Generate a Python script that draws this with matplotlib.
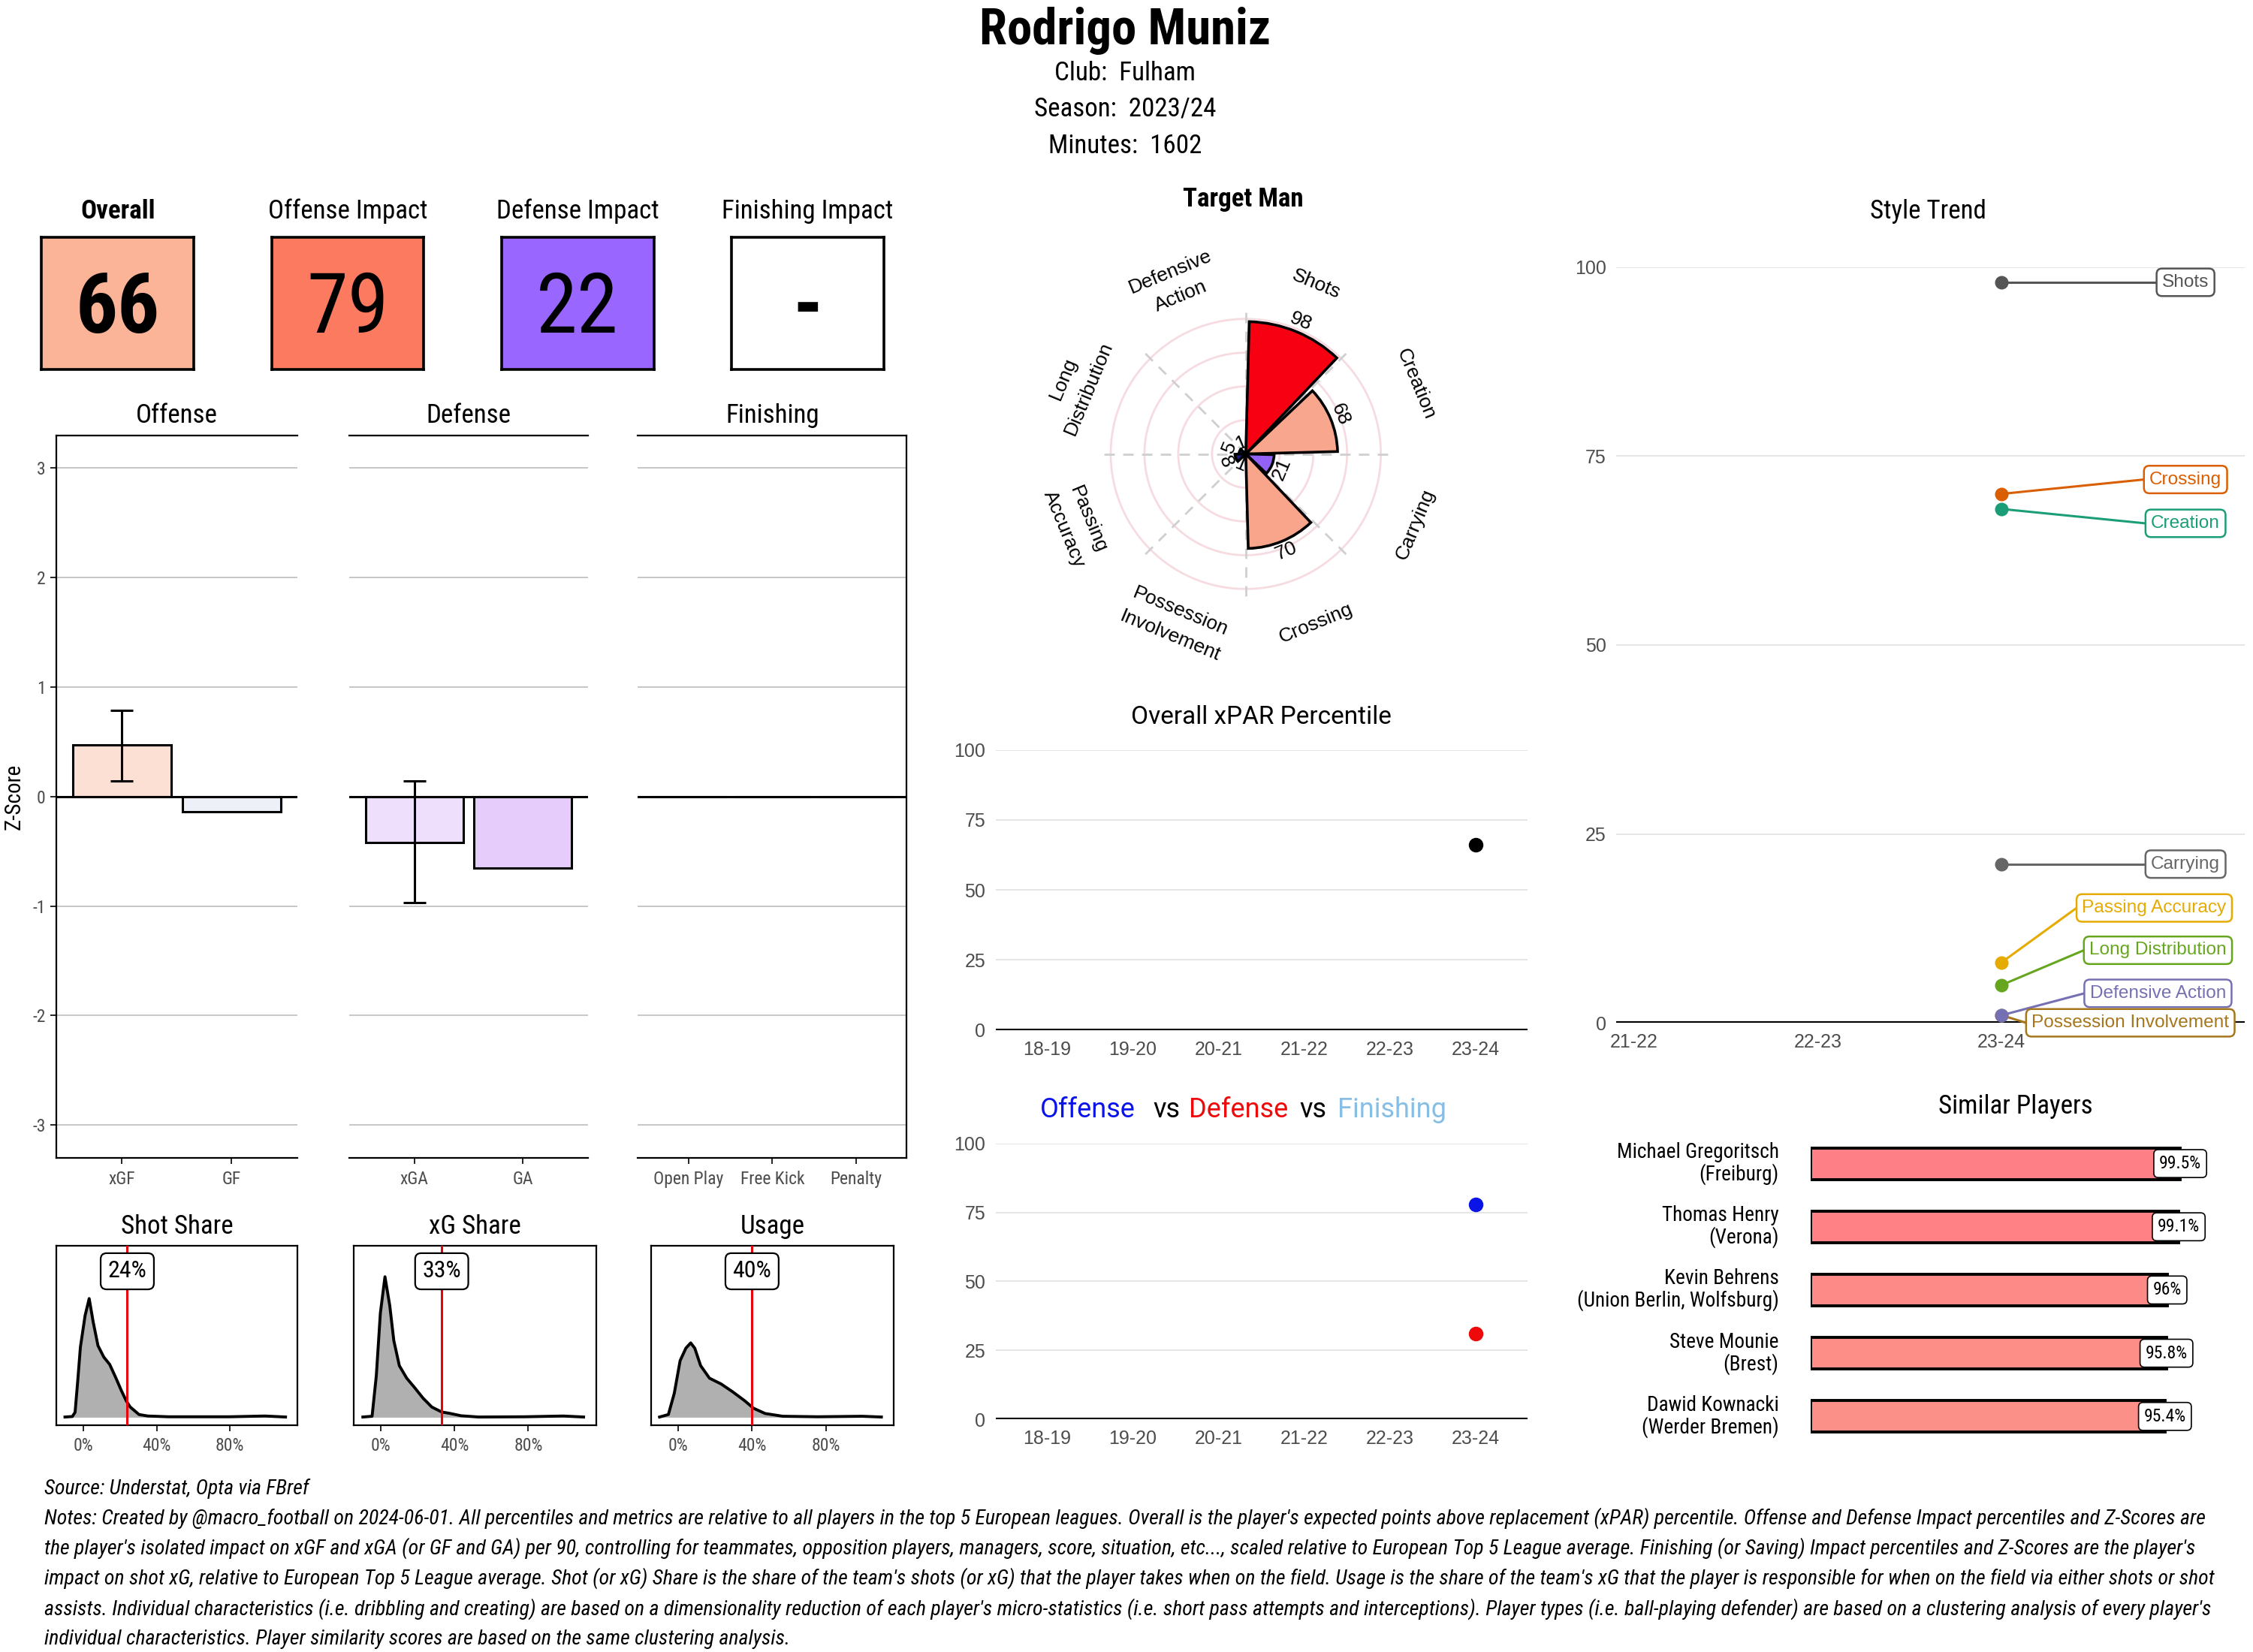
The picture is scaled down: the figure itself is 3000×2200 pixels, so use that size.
import matplotlib
matplotlib.use("Agg")
import matplotlib.pyplot as plt
import numpy as np
from matplotlib import font_manager as fm

plt.rcParams["axes.unicode_minus"] = False

# layout grid: reference picture scaled down to 1568 x 1150
W, H = 1568, 1150

avail = {f.name for f in fm.fontManager.ttflist}
COND = next((f for f in ["Roboto Condensed", "Liberation Sans Narrow", "Roboto"] if f in avail), "DejaVu Sans")
SANS = "Liberation Sans"
ROB = "Roboto"

# ---------------- data ----------------
player = "Rodrigo Muniz"
club = "Fulham"
season = "2023/24"
minutes = 1602

tile_labels = ["Overall", "Offense Impact", "Defense Impact", "Finishing Impact"]
tile_values = ["66", "79", "22", "-"]
tile_colors = ["#FCB499", "#FC7A60", "#9966FF", "#FFFFFF"]

off_cats = ["xGF", "GF"]
off_z = [0.47, -0.14]
off_lo = [0.14, np.nan]
off_hi = [0.79, np.nan]
off_fill = ["#FDE0D4", "#EEF0F8"]

def_cats = ["xGA", "GA"]
def_z = [-0.42, -0.65]
def_lo = [-0.97, np.nan]
def_hi = [0.14, np.nan]
def_fill = ["#EEE0FC", "#E6CCFA"]

fin_cats = ["Open Play", "Free Kick", "Penalty"]
fin_z = [0.0, 0.0, 0.0]
fin_lo = [np.nan, np.nan, np.nan]
fin_hi = [np.nan, np.nan, np.nan]
fin_fill = ["#FFFFFF", "#FFFFFF", "#FFFFFF"]

share_titles = ["Shot Share", "xG Share", "Usage"]
share_values = [0.24, 0.33, 0.40]
shot_x = [-0.10, -0.06, -0.045, -0.03, -0.016, 0.0096, 0.032, 0.054, 0.08, 0.112, 0.144, 0.176,
          0.208, 0.234, 0.256, 0.304, 0.352, 0.464, 0.656, 0.80, 0.992, 1.104]
shot_h = [1, 3, 20, 150, 280, 406, 474, 380, 286, 240, 211, 160, 106, 66, 41, 11, 5, 2, 2, 2, 5, 1]
xg_x = [-0.098, -0.048, -0.025, -0.003, 0.022, 0.048, 0.07, 0.10, 0.14, 0.18, 0.229, 0.276,
        0.33, 0.371, 0.435, 0.53, 0.784, 0.99, 1.10]
xg_h = [1, 4, 166, 416, 561, 446, 306, 206, 156, 121, 76, 41, 21, 16, 6, 1, 2, 5, 1]
use_x = [-0.102, -0.054, -0.022, 0.0096, 0.041, 0.067, 0.089, 0.121, 0.169, 0.232, 0.296, 0.36,
         0.408, 0.471, 0.567, 0.758, 0.997, 1.102]
use_h = [1, 11, 96, 226, 276, 297, 276, 206, 156, 133, 101, 66, 36, 15, 4, 2, 4, 1]

style_cats = ["Shots", "Creation", "Carrying", "Crossing", "Possession\nInvolvement",
              "Passing\nAccuracy", "Long\nDistribution", "Defensive\nAction"]
style_pct = [98, 68, 21, 70, 1, 8, 5, 1]
style_fill = ["#F60012", "#F8A78E", "#9262F6", "#F8A58B", "#10106A", "#1E1E84", "#1A1A7A", "#10106A"]

pct_seasons = ["18-19", "19-20", "20-21", "21-22", "22-23", "23-24"]
overall_pct = [np.nan, np.nan, np.nan, np.nan, np.nan, 66]
offense_pct = [np.nan, np.nan, np.nan, np.nan, np.nan, 78]
defense_pct = [np.nan, np.nan, np.nan, np.nan, np.nan, 31]
finishing_pct = [np.nan, np.nan, np.nan, np.nan, np.nan, np.nan]

trend_seasons = ["21-22", "22-23", "23-24"]
trend_names = ["Shots", "Crossing", "Creation", "Carrying", "Passing Accuracy",
               "Long Distribution", "Defensive Action", "Possession Involvement"]
trend_vals = [98, 70, 68, 21, 8, 5, 1, 1]
trend_colors = ["#555555", "#D95F02", "#1B9E77", "#666666", "#E6AB02", "#66A61E", "#7570B3", "#A6761D"]

sim_names = ["Michael Gregoritsch\n(Freiburg)", "Thomas Henry\n(Verona)",
             "Kevin Behrens\n(Union Berlin, Wolfsburg)", "Steve Mounie\n(Brest)",
             "Dawid Kownacki\n(Werder Bremen)"]
sim_scores = [99.5, 99.1, 96.0, 95.8, 95.4]
sim_colors = ["#FF7F86", "#FF8186", "#FD8A86", "#FC8D87", "#FB9088"]

source_txt = "Source: Understat, Opta via FBref"
notes_lines = [
    "Notes: Created by @macro_football on 2024-06-01. All percentiles and metrics are relative to all players in the top 5 European leagues. Overall is the player's expected points above replacement (xPAR) percentile. Offense and Defense Impact percentiles and Z-Scores are",
    "the player's isolated impact on xGF and xGA (or GF and GA) per 90, controlling for teammates, opposition players, managers, score, situation, etc..., scaled relative to European Top 5 League average. Finishing (or Saving) Impact percentiles and Z-Scores are the player's",
    "impact on shot xG, relative to European Top 5 League average. Shot (or xG) Share is the share of the team's shots (or xG) that the player takes when on the field. Usage is the share of the team's xG that the player is responsible for when on the field via either shots or shot",
    "assists. Individual characteristics (i.e. dribbling and creating) are based on a dimensionality reduction of each player's micro-statistics (i.e. short pass attempts and interceptions). Player types (i.e. ball-playing defender) are based on a clustering analysis of every player's",
    "individual characteristics. Player similarity scores are based on the same clustering analysis.",
]

# ---------------- helpers ----------------
fig = plt.figure(figsize=(15, 11), dpi=200)
fig.patch.set_facecolor("white")


def add_ax(x0, y0, x1, y1, **kw):
    return fig.add_axes([x0 / W, 1 - y1 / H, (x1 - x0) / W, (y1 - y0) / H], **kw)


def ftext(x, y, s, **kw):
    return fig.text(x / W, 1 - y / H, s, **kw)


def fit(t, width):
    r = fig.canvas.get_renderer()
    w = t.get_window_extent(r).width
    target = width / W * fig.bbox.width
    if w > target:
        t.set_fontsize(t.get_fontsize() * target / w)


# ---------------- header ----------------
t = ftext(783, 31, player, family=COND, weight="bold", fontsize=25, ha="center", va="baseline")
fit(t, 203)
for txt, yb, wd in [(f"Club:  {club}", 55.8, 110), (f"Season:  {season}", 81, 142),
                    (f"Minutes:  {minutes}", 106.6, 120)]:
    t = ftext(783, yb, txt, family=COND, fontsize=12.6, ha="center", va="baseline")
    fit(t, wd)

# ---------------- tiles ----------------
tile_x = [(29, 135), (189, 295), (349, 455), (509, 615)]
label_w = [55, 118, 120, 128]
for (x0, x1), lab, val, col, lw_ in zip(tile_x, tile_labels, tile_values, tile_colors, label_w):
    cx = (x0 + x1) / 2
    t = ftext(cx, 152, lab, family=COND, fontsize=12.6, ha="center", va="baseline",
              weight="bold" if lab == "Overall" else "normal")
    fit(t, lw_)
    ax = add_ax(x0, 165, x1, 257)
    ax.set_facecolor(col)
    ax.set_xticks([])
    ax.set_yticks([])
    for s in ax.spines.values():
        s.set_linewidth(1.3)
    ftext(cx, 231.5, val, family=COND, fontsize=40, ha="center", va="baseline",
          weight="bold" if lab in ("Overall", "Finishing Impact") else "normal")

# ---------------- z-score panels ----------------
def zpanel(x0, x1, cats, vals, lo, hi, fills, title, left=False, right=False):
    ax = add_ax(x0, 303, x1, 806)
    pos = np.arange(1, len(cats) + 1)
    ax.set_xlim(0.4, len(cats) + 0.6)
    ax.set_ylim(-3.3, 3.3)
    for y in range(-3, 4):
        ax.axhline(y, color="#BDBDBD", lw=0.6, zorder=0)
    ax.bar(pos, vals, width=0.9, color=fills, edgecolor="black", lw=1.1, zorder=2)
    ax.axhline(0, color="black", lw=1.1, zorder=3)
    lo = np.array(lo, float)
    hi = np.array(hi, float)
    ok = ~np.isnan(lo)
    if ok.any():
        v = np.array(vals, float)[ok]
        ax.errorbar(pos[ok], v, yerr=[v - lo[ok], hi[ok] - v], fmt="none", ecolor="black",
                    elinewidth=1.1, capsize=5.5, capthick=1.1, zorder=4)
    ax.spines["left"].set_visible(left)
    ax.spines["right"].set_visible(right)
    for s in ax.spines.values():
        s.set_linewidth(0.8)
    ax.set_xticks(pos, cats)
    ax.tick_params(axis="x", length=3, width=0.6, labelsize=8.5, labelcolor="#4D4D4D", pad=3)
    for lab in ax.get_xticklabels():
        lab.set_family(COND)
    if left:
        ax.set_yticks(range(-3, 4))
        ax.tick_params(axis="y", length=3, width=0.6, labelsize=8.5, labelcolor="#4D4D4D", pad=2)
        for lab in ax.get_yticklabels():
            lab.set_family(COND)
        ax.set_ylabel("Z-Score", family=COND, fontsize=10.5, labelpad=4)
    else:
        ax.set_yticks([])
    ftext((x0 + x1) / 2, 294.5, title, family=COND, fontsize=12.6, ha="center", va="baseline")
    return ax


zpanel(39, 207, off_cats, off_z, off_lo, off_hi, off_fill, "Offense", left=True)
zpanel(243, 409, def_cats, def_z, def_lo, def_hi, def_fill, "Defense")
zpanel(444, 631, fin_cats, fin_z, fin_lo, fin_hi, fin_fill, "Finishing", right=True)

# ---------------- share densities ----------------
share_x = [(39, 207), (246, 415), (453, 622)]
curves = [(shot_x, shot_h), (xg_x, xg_h), (use_x, use_h)]
for (x0, x1), ttl, val, (cx, ch) in zip(share_x, share_titles, share_values, curves):
    ax = add_ax(x0, 867, x1, 992)
    ax.fill_between(cx, ch, 0, color="#B0B0B0", lw=0, zorder=1)
    ax.plot(cx, ch, color="black", lw=1.4, zorder=2)
    ax.axvline(val, color="#E8000B", lw=1.1, zorder=3)
    ax.text(val, 583, f"{val * 100:.0f}%", ha="center", va="center", family=COND, fontsize=11.5,
            bbox=dict(boxstyle="round,pad=0.3,rounding_size=0.25", fc="white", ec="black", lw=0.8), zorder=5)
    ax.set_xlim(-0.149, 1.169)
    ax.set_ylim(-31, 686)
    ax.set_yticks([])
    ax.set_xticks([0, 0.4, 0.8], ["0%", "40%", "80%"])
    ax.tick_params(axis="x", length=3, width=0.6, labelsize=8.5, labelcolor="#4D4D4D", pad=3)
    for lab in ax.get_xticklabels():
        lab.set_family(COND)
    for s in ax.spines.values():
        s.set_linewidth(0.8)
    ftext((x0 + x1) / 2, 859, ttl, family=COND, fontsize=12.6, ha="center", va="baseline")

# ---------------- style polar ----------------
ftext(865, 144, "Target Man", family=COND, weight="bold", fontsize=12.6, ha="center", va="baseline")
cx, cy, rad = 867, 316, 94 * 1.1
pax = add_ax(cx - rad, cy - rad, cx + rad, cy + rad, projection="polar")
pax.set_theta_zero_location("N")
pax.set_theta_direction(-1)
pax.set_ylim(0, 110)
pax.set_xticks([])
pax.set_yticks([])
pax.grid(False)
pax.spines["polar"].set_visible(False)
pax.patch.set_alpha(0)
ring = np.linspace(0, 2 * np.pi, 361)
for r in (25, 50, 75, 100):
    pax.plot(ring, np.full_like(ring, r), color="#F6DCE0", lw=1.0, zorder=1)
for a in range(0, 360, 45):
    pax.plot([np.deg2rad(a)] * 2, [0, 110], color="#CFCFCF", lw=1.0, ls=(0, (5, 4)), zorder=2)
mid = 22.5 + 45 * np.arange(len(style_cats))
pax.bar(np.deg2rad(mid), style_pct, width=np.deg2rad(42), color=style_fill, edgecolor="black",
        lw=1.3, zorder=3)
for m, lab, v in zip(mid, style_cats, style_pct):
    rot = ((-m + 90) % 180) - 90
    pax.text(np.deg2rad(m), 136, lab, rotation=rot, rotation_mode="anchor", ha="center", va="center",
             family=SANS, fontsize=9.5, linespacing=1.6, clip_on=False)
    pax.text(np.deg2rad(m), v + 8, str(v), rotation=rot, rotation_mode="anchor", ha="center",
             va="center", family=SANS, fontsize=9.5, zorder=6, clip_on=False)

# ---------------- percentile panels ----------------
def pct_panel(y0, y1, series, colors):
    ax = add_ax(693, y0, 1063, y1)
    xs = np.arange(1, len(pct_seasons) + 1)
    ax.set_xlim(0.4, len(pct_seasons) + 0.6)
    ax.set_ylim(0, 100)
    for y in (25, 50, 75, 100):
        ax.axhline(y, color="#E0E0E0", lw=0.6, zorder=0)
    ax.axhline(0, color="black", lw=1.5, zorder=2)
    for s, c in zip(series, colors):
        ax.plot(xs, s, "o", color=c, ms=6, zorder=3, clip_on=False)
    ax.set_xticks(xs, pct_seasons)
    ax.set_yticks([0, 25, 50, 75, 100])
    ax.tick_params(length=0, labelsize=9, labelcolor="#4D4D4D", pad=5)
    for lab in ax.get_xticklabels() + ax.get_yticklabels():
        lab.set_family(SANS)
    for s in ax.spines.values():
        s.set_visible(False)
    return ax


pct_panel(522, 717, [overall_pct], ["black"])
ftext(878, 504, "Overall xPAR Percentile", family=ROB, fontsize=12, ha="center", va="baseline")
pct_panel(796, 988, [offense_pct, defense_pct, finishing_pct], ["#0A14E6", "#EE0A0A", "#87BEE6"])
for word, xc, col in [("Offense", 757, "#0A14E6"), ("vs", 812, "black"), ("Defense", 862, "#EE0A0A"),
                      ("vs", 914, "black"), ("Finishing", 969, "#87BEE6")]:
    ftext(xc, 778, word, family=ROB, fontsize=13, ha="center", va="baseline", color=col)

# ---------------- style trend ----------------
ftext(1342, 152, "Style Trend", family=COND, fontsize=12.6, ha="center", va="baseline")
tax = add_ax(1125, 186, 1562, 712)
tax.set_xlim(0.906, 4.32)
tax.set_ylim(0, 100)
for y in (25, 50, 75, 100):
    tax.axhline(y, color="#E0E0E0", lw=0.6, zorder=0)
tax.axhline(0, color="black", lw=1.5, zorder=2)
tax.set_xticks([1, 2, 3], trend_seasons)
tax.set_yticks([0, 25, 50, 75, 100])
tax.tick_params(length=0, labelsize=9, labelcolor="#4D4D4D", pad=5)
for lab in tax.get_xticklabels() + tax.get_yticklabels():
    lab.set_family(SANS)
for s in tax.spines.values():
    s.set_visible(False)

lab_x = [4.0, 4.0, 4.0, 4.0, 3.83, 3.85, 3.85, 3.70]
lab_y = [98.0, 71.9, 66.1, 21.0, 15.2, 9.6, 3.9, 0.0]
boxes = []
for name, c, lx, ly in zip(trend_names, trend_colors, lab_x, lab_y):
    t = tax.text(lx, ly, name, color=c, ha="center", va="center", family=SANS, fontsize=8.8,
                 bbox=dict(boxstyle="round,pad=0.3,rounding_size=0.3", fc="white", ec=c, lw=0.9),
                 zorder=6, clip_on=False)
    boxes.append(t)
fig.canvas.draw()
rend = fig.canvas.get_renderer()
inv = tax.transData.inverted()
for t, v, c, ly in zip(boxes, trend_vals, trend_colors, lab_y):
    bb = t.get_bbox_patch().get_window_extent(rend)
    xl = inv.transform((bb.x0, bb.y0))[0]
    tax.plot([3, xl], [v, ly], color=c, lw=1.1, zorder=4, clip_on=False)
# points drawn last-first so the upper series sits on top where they overlap
for v, c in list(zip(trend_vals, trend_colors))[::-1]:
    tax.plot([3], [v], "o", color=c, ms=5.5, zorder=5, clip_on=False)

# ---------------- similar players ----------------
ftext(1403, 775, "Similar Players", family=COND, fontsize=12.6, ha="center", va="baseline")
sax = add_ax(1260, 788, 1560, 1008)
ypos = np.arange(1, len(sim_names) + 1)
sax.barh(ypos, sim_scores, height=0.5, color=sim_colors, edgecolor="black", lw=1.4)
sax.set_xlim(0, 116)
sax.set_ylim(len(sim_names) + 0.5, 0.5)
sax.axis("off")
for y, nm, v in zip(ypos, sim_names, sim_scores):
    sax.text(-8.5, y, nm, ha="right", va="center", family=COND, fontsize=9.8, linespacing=1.05)
    sax.text(v, y, f"{v:g}%", ha="center", va="center", family=COND, fontsize=8.5,
             bbox=dict(boxstyle="round,pad=0.3,rounding_size=0.25", fc="white", ec="black", lw=0.6))

# ---------------- footer ----------------
ftext(31, 1040, source_txt, family=COND, style="italic", fontsize=10, ha="left", va="baseline")
note_texts = []
for i, line in enumerate(notes_lines):
    note_texts.append(ftext(31, 1061 + 21 * i, line, family=COND, style="italic", fontsize=11,
                            ha="left", va="baseline"))
rend = fig.canvas.get_renderer()
ends = [1543, 1536, 1535, 1547]
scale = min((e - 31) / W * fig.bbox.width / t.get_window_extent(rend).width
            for t, e in zip(note_texts[:4], ends))
for t in note_texts:
    t.set_fontsize(t.get_fontsize() * min(scale, 1.0))

fig.savefig("out.png", dpi=200, facecolor="white")
